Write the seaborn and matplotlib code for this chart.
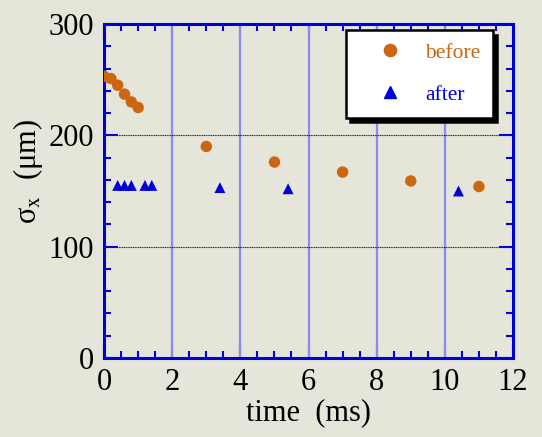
import matplotlib
matplotlib.use("Agg")
import matplotlib.pyplot as plt
import seaborn as sns
import pandas as pd
from matplotlib.ticker import MultipleLocator
from matplotlib.lines import Line2D

# data
before_t = [0.0, 0.2, 0.4, 0.6, 0.8, 1.0, 3.0, 5.0, 7.0, 9.0, 11.0]
before_sigma = [253, 251, 245, 237, 230, 225, 190, 176, 167, 159, 154]
after_t = [0.4, 0.6, 0.8, 1.2, 1.4, 3.4, 5.4, 10.4]
after_sigma = [155, 155, 155, 155, 155, 153, 152, 150]
labels = ["before", "after"]

orange = "#cc6611"
blue = "#0000dd"
bg = "#e5e6d9"

sns.set_theme(style="white")
plt.rcParams['font.family'] = ['Liberation Serif', 'DejaVu Serif']
plt.rcParams['mathtext.fontset'] = 'stix'
plt.rcParams['text.color'] = 'black'
plt.rcParams['axes.labelcolor'] = 'black'

fig = plt.figure(figsize=(5.42, 4.37), dpi=100, facecolor=bg)
ax = fig.add_axes([0.192, 0.181, 0.7545, 0.764])
ax.set_facecolor(bg)

df_b = pd.DataFrame({"t": before_t, "s": before_sigma})
df_a = pd.DataFrame({"t": after_t, "s": after_sigma})

ax.set_xlim(0, 12)
ax.set_ylim(0, 300)

for x in [2, 4, 6, 8, 10]:
    ax.axvline(x, color="#8a8af0", lw=1.6, zorder=1)
for y in [100, 200]:
    ax.axhline(y, color="#1a1a50", lw=0.8, ls=(0, (1, 0.6)), zorder=1)

sns.scatterplot(data=df_b, x="t", y="s", ax=ax, color=orange, marker="o",
                s=68, edgecolor="none", zorder=3, legend=False)
sns.scatterplot(data=df_a, x="t", y="s", ax=ax, color=blue, marker="^",
                s=62, edgecolor="none", zorder=3, legend=False)

ax.xaxis.set_major_locator(MultipleLocator(2))
ax.xaxis.set_minor_locator(MultipleLocator(0.5))
ax.yaxis.set_major_locator(MultipleLocator(100))
ax.yaxis.set_minor_locator(MultipleLocator(20))
ax.tick_params(which="both", direction="in", top=True, right=True,
               bottom=True, left=True, color=blue, labelsize=22,
               labelcolor="black")
ax.tick_params(which="major", length=10, width=1.5, pad=7.5)
ax.tick_params(which="minor", length=5, width=1.5)
for sp in ax.spines.values():
    sp.set_color(blue)
    sp.set_linewidth(2.2)

ax.set_xlabel("time  (ms)", fontsize=22, labelpad=1)
ax.set_ylabel(r"σ$_{\mathrm{x}}$  (μm)", fontsize=22)
ax.yaxis.set_label_coords(-0.145, 0.56)

handles = [
    Line2D([], [], ls="none", marker="o", color=orange, markersize=8.8),
    Line2D([], [], ls="none", marker="^", color=blue, markersize=8.5),
]
leg = ax.legend(handles, labels, loc="upper right",
                bbox_to_anchor=(0.951, 0.982), fontsize=15.5,
                frameon=True, fancybox=False, edgecolor="black",
                facecolor="white", framealpha=1,
                shadow={'color': 'black', 'alpha': 1, 'ox': 3, 'oy': -3.5},
                handletextpad=0.15, borderpad=0.6, labelspacing=1.0,
                handlelength=2.9, borderaxespad=0,
                labelcolor=[orange, blue])
leg.get_frame().set_linewidth(1.8)
leg.set_zorder(5)

fig.savefig("out.png", dpi=100, facecolor=bg)
